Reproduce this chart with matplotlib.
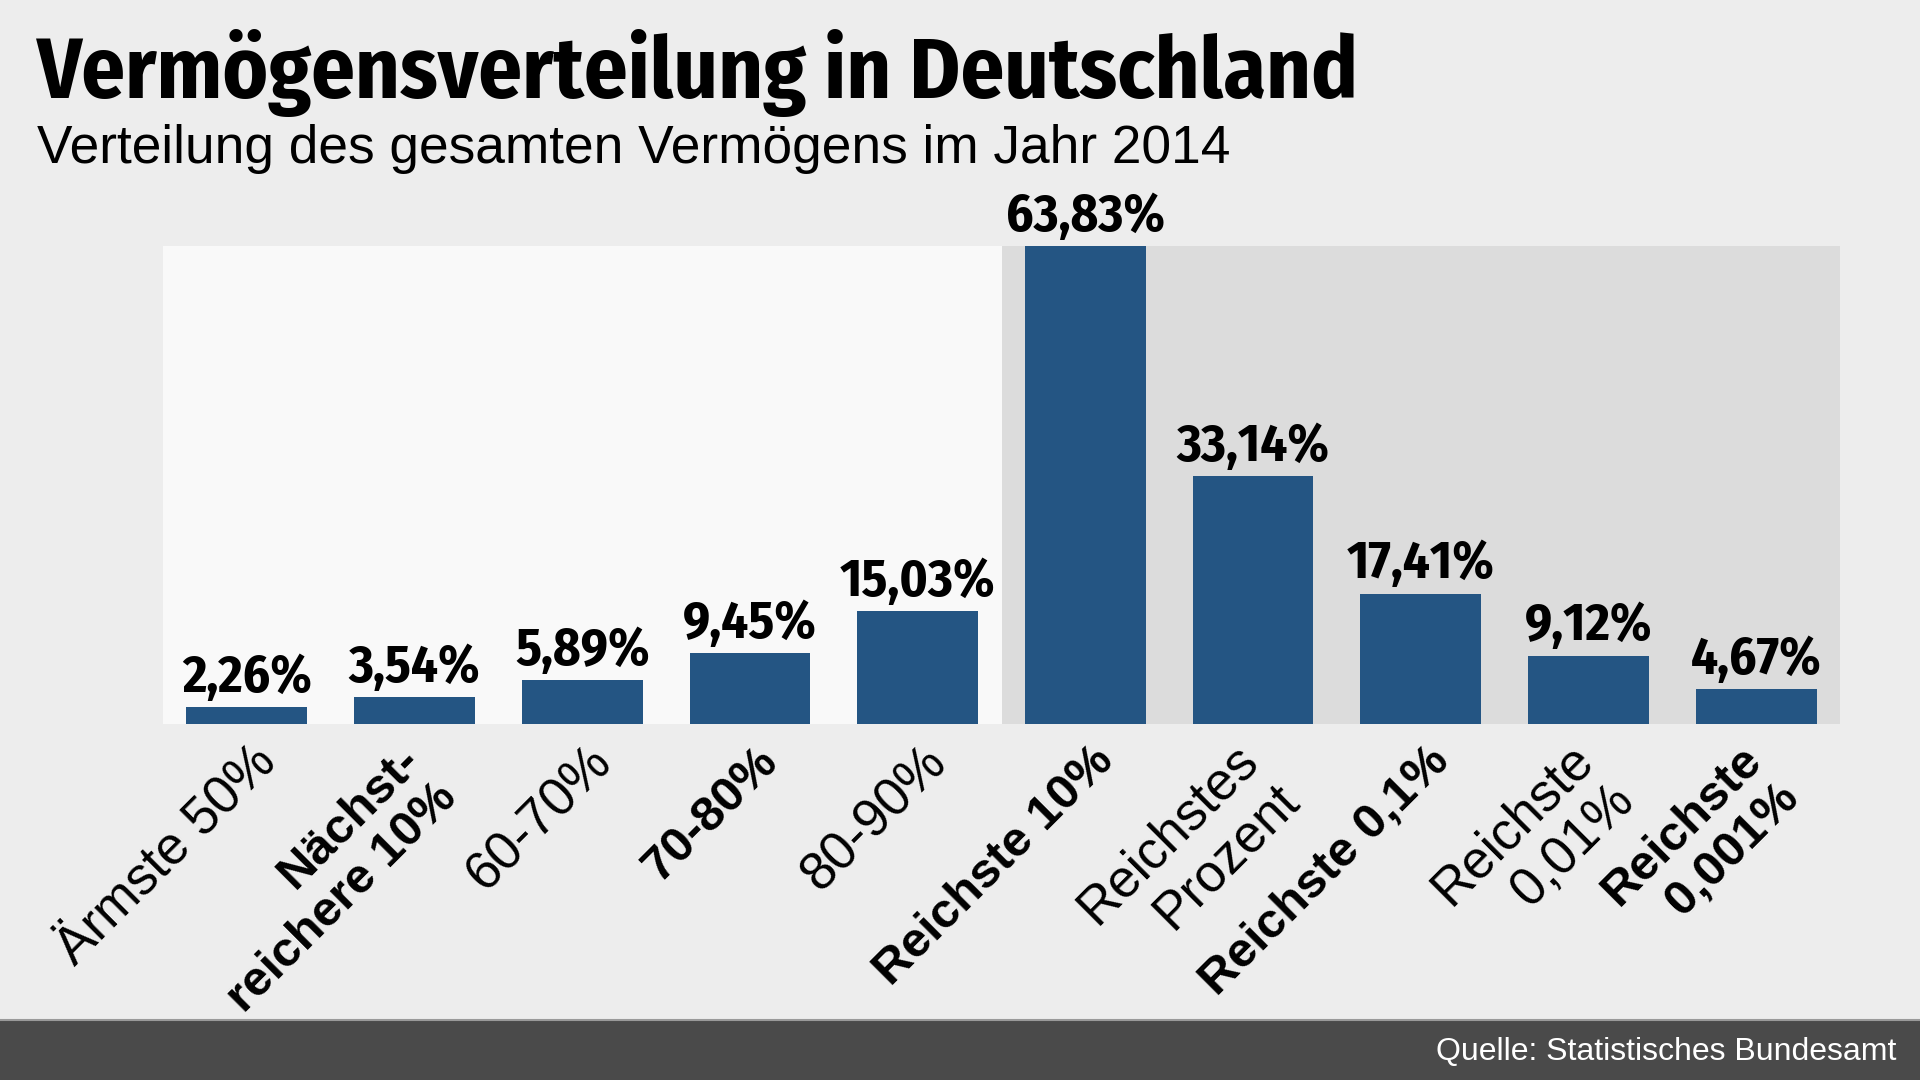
# Vermögensverteilung in Deutschland - Balkendiagramm
import matplotlib
matplotlib.use("Agg")
import matplotlib.pyplot as plt
from matplotlib.patches import Rectangle
from matplotlib.lines import Line2D
from matplotlib.transforms import ScaledTranslation

gruppen = ["Ärmste 50%", "Nächst-\nreichere 10%", "60-70%", "70-80%", "80-90%",
           "Reichste 10%", "Reichstes\nProzent", "Reichste 0,1%", "Reichste\n0,01%",
           "Reichste\n0,001%"]
anteile = [2.26, 3.54, 5.89, 9.45, 15.03, 63.83, 33.14, 17.41, 9.12, 4.67]
fett = [False, True, False, True, False, True, False, True, False, True]

schmal = ["Fira Sans Condensed", "DejaVu Sans"]
normal = ["Liberation Sans", "DejaVu Sans"]

fig = plt.figure(figsize=(19.2, 10.8), dpi=100, facecolor="#EDEDED")
ax = fig.add_axes([163 / 1920, 1 - 724 / 1080, (1840 - 163) / 1920, (724 - 246) / 1080])
ax.set_facecolor("#F9F9F9")

x = list(range(len(anteile)))
ax.axvspan(4.5, 9.5, color="#DCDCDC", zorder=0, lw=0)
ax.bar(x, anteile, width=0.72, color="#245583", zorder=2)
ax.set_xlim(-0.5, 9.5)
ax.set_ylim(0, 63.83)
for s in ax.spines.values():
    s.set_visible(False)
ax.set_xticks([])
ax.set_yticks([])

# Werte über den Balken
for xi, v in zip(x, anteile):
    ax.annotate(f"{v:.2f}%".replace(".", ","), (xi, v), xytext=(0, 11),
                textcoords="offset points", ha="center", va="baseline",
                fontsize=38, fontweight="bold", family=schmal, fontstretch="condensed",
                annotation_clip=False)

# schräge Beschriftungen (zweizeilige etwas tiefer, rechtsbündig)
for xi, g, b in zip(x, gruppen, fett):
    if "\n" in g:
        off = ScaledTranslation(0.17, -0.48, fig.dpi_scale_trans)
    else:
        off = ScaledTranslation(0.21, -0.30, fig.dpi_scale_trans)
    ax.text(xi, 0, g, transform=ax.get_xaxis_transform() + off,
            rotation=45, rotation_mode="anchor", ha="right", va="center",
            multialignment="right", fontsize=35.5 if b else 38, family=normal,
            fontweight="bold" if b else "normal", linespacing=1.2)

fig.text(37 / 1920, 1 - 98 / 1080, "Vermögensverteilung in Deutschland",
         fontsize=62, fontweight="bold", family=schmal, fontstretch="condensed",
         va="baseline")
fig.text(37 / 1920, 1 - 163 / 1080, "Verteilung des gesamten Vermögens im Jahr 2014",
         fontsize=38.3, family=normal, va="baseline")

# Fußzeile
fig.patches.append(Rectangle((0, 0), 1, 60 / 1080, transform=fig.transFigure,
                             color="#4A4A4A", zorder=0))
fig.lines.append(Line2D([0, 1], [60 / 1080, 60 / 1080], transform=fig.transFigure,
                        color="#9A9A9A", lw=1.5))
fig.text(1896 / 1920, 20 / 1080, "Quelle: Statistisches Bundesamt", color="white",
         fontsize=23, family=normal, ha="right", va="baseline")

fig.savefig("out.png", dpi=100, facecolor=fig.get_facecolor())
